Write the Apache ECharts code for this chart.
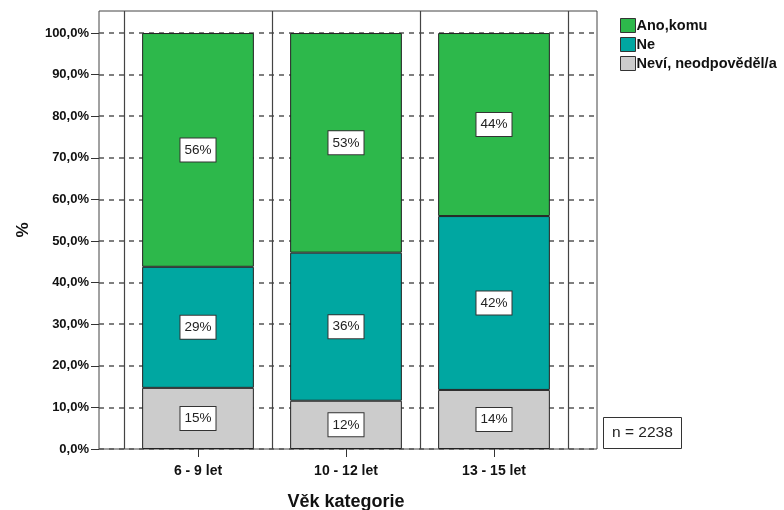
<!DOCTYPE html>
<html>
<head>
<meta charset="utf-8">
<script src="https://cdn.jsdelivr.net/npm/echarts@6/dist/echarts.min.js"></script>
<style>html,body{margin:0;padding:0;background:#fff;}#c{width:784px;height:510px;}</style>
</head>
<body>
<div id="c"></div>
<script>
var categories = ['6 - 9 let', '10 - 12 let', '13 - 15 let'];
var seriesNames = ['Neví, neodpověděl/a', 'Ne', 'Ano,komu'];
var neviValues = [14.7, 11.6, 14.2];
var neValues = [29.1, 35.6, 41.8];
var anoValues = [56.2, 52.8, 44.0];
var yTicks = [0, 10, 20, 30, 40, 50, 60, 70, 80, 90, 100];
var nText = 'n = 2238';
var xTitle = 'Věk kategorie';
var yTitle = '%';

var colors = { 'Ano,komu': '#2db84b', 'Ne': '#00a7a1', 'Neví, neodpověděl/a': '#cccccc' };
var FONT = 'Liberation Sans, Arial, sans-serif';
var YMAX = 105.3;

function fmtY(v) { return v.toFixed(1).replace('.', ',') + '%'; }

var valuesByName = {
  'Neví, neodpověděl/a': neviValues,
  'Ne': neValues,
  'Ano,komu': anoValues
};

var series = seriesNames.map(function (name) {
  return {
    name: name,
    type: 'bar',
    stack: 'total',
    xAxisIndex: 1,
    yAxisIndex: 1,
    barWidth: '75.5%',
    data: valuesByName[name],
    itemStyle: { color: colors[name], borderColor: '#222', borderWidth: 1 },
    label: {
      show: true,
      position: 'inside',
      formatter: function (p) { return Math.round(p.value) + '%'; },
      color: '#222',
      fontFamily: FONT,
      fontSize: 13.5,
      backgroundColor: '#fff',
      borderColor: '#333',
      borderWidth: 1,
      padding: [5, 4, 4, 4]
    },
    emphasis: { disabled: true }
  };
});

var chart = echarts.init(document.getElementById('c'), null, { renderer: 'canvas' });
chart.setOption({
  animation: false,
  backgroundColor: '#fff',
  title: {
    text: nText,
    left: 603, top: 417,
    padding: [8, 9, 8, 9],
    borderColor: '#333', borderWidth: 1,
    textStyle: { fontFamily: FONT, fontSize: 15.5, fontWeight: 'normal', color: '#222' }
  },
  legend: {
    orient: 'vertical',
    left: 620, top: 18, padding: 0,
    itemWidth: 15, itemHeight: 14, itemGap: 4,
    data: ['Ano,komu', 'Ne', 'Neví, neodpověděl/a'],
    icon: 'rect',
    itemStyle: { borderColor: '#333', borderWidth: 1 },
    textStyle: { fontFamily: FONT, fontSize: 14.5, lineHeight: 14, fontWeight: 'bold', color: '#111', padding: [0, 0, 0, -4] }
  },
  grid: [
    { left: 99, right: 187, top: 11, bottom: 61, show: true, borderColor: '#444', borderWidth: 1, backgroundColor: 'transparent', containLabel: false, outerBoundsMode: 'none' },
    { left: 124, right: 216, top: 11, bottom: 61, containLabel: false, outerBoundsMode: 'none' }
  ],
  xAxis: [
    { type: 'value', gridIndex: 0, min: 0, max: 1, show: false },
    {
      type: 'category', gridIndex: 1, data: categories, boundaryGap: true,
      name: xTitle, nameLocation: 'middle', nameGap: 44,
      nameTextStyle: { fontFamily: FONT, fontSize: 18, fontWeight: 'bold', color: '#111' },
      axisLine: { show: false },
      axisTick: { show: true, alignWithLabel: true, length: 8, lineStyle: { color: '#333' } },
      axisLabel: { fontFamily: FONT, fontSize: 14, fontWeight: 'bold', color: '#111', margin: 15 },
      splitLine: { show: true, interval: 0, lineStyle: { color: '#444', width: 1.2 } }
    }
  ],
  yAxis: [
    {
      type: 'value', gridIndex: 0, min: 0, max: YMAX, interval: 10,
      name: yTitle, nameLocation: 'middle', nameGap: 67, nameRotate: 90,
      nameTextStyle: { fontFamily: FONT, fontSize: 17, fontWeight: 'bold', color: '#111' },
      axisLine: { show: false },
      axisTick: { show: true, inside: false, length: 8, lineStyle: { color: '#333' } },
      axisLabel: {
        showMaxLabel: false,
        fontFamily: FONT, fontSize: 13, fontWeight: 'bold', color: '#111', margin: 10,
        formatter: function (v) { return yTicks.indexOf(Math.round(v * 10) / 10) >= 0 ? fmtY(v) : ''; }
      },
      splitLine: { show: true, showMaxLine: false, lineStyle: { color: '#555', width: 1.5, type: [5, 5] } }
    },
    { type: 'value', gridIndex: 1, min: 0, max: YMAX, show: false, splitLine: { show: false } }
  ],
  series: series
});
</script>
</body>
</html>
